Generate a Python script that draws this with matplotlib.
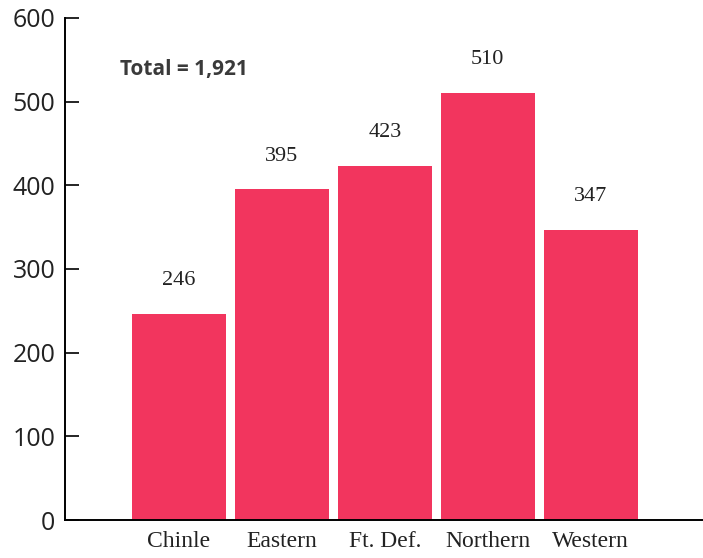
import matplotlib
matplotlib.use('Agg')
import matplotlib.pyplot as plt
import numpy as np

# chart data
agencies = ['Chinle', 'Eastern', 'Ft. Def.', 'Northern', 'Western']
counts = [246, 395, 423, 510, 347]
total_label = 'Total = 1,921'
y_ticks = [0, 100, 200, 300, 400, 500, 600]

bar_color = '#F2355E'

fig = plt.figure(figsize=(7.03, 5.58), dpi=100)
ax = fig.add_axes([0.0925, 0.068, 0.9075, 0.9])

x = np.arange(len(agencies))
bars = ax.bar(x, counts, width=0.91, color=bar_color, zorder=2)

for xi, val in zip(x, counts):
    ax.annotate(str(val), (xi, val), xytext=(0, 24), textcoords='offset points',
                ha='center', va='center', fontsize=16, family='Liberation Serif',
                color='#222222')

ax.text(-0.57, 538, total_label, ha='left', va='center', fontsize=15,
        fontweight='bold', family='Open Sans', color='#3a3a3a')

ax.set_xlim(-1.107, 5.09)
ax.set_ylim(0, 600)
ax.set_yticks(y_ticks)
ax.set_yticklabels([str(t) for t in y_ticks], family='Open Sans', fontsize=18,
                   color='#222222')
ax.set_xticks(x)
ax.set_xticklabels(agencies, family='Liberation Serif', fontsize=17, color='#222222')

ax.tick_params(axis='y', direction='in', length=10, width=1.2, pad=7)
ax.tick_params(axis='x', length=0, pad=8)

for side in ['top', 'right']:
    ax.spines[side].set_visible(False)
ax.spines['left'].set_linewidth(1.4)
ax.spines['bottom'].set_linewidth(1.4)

fig.savefig('out.png', dpi=100)
